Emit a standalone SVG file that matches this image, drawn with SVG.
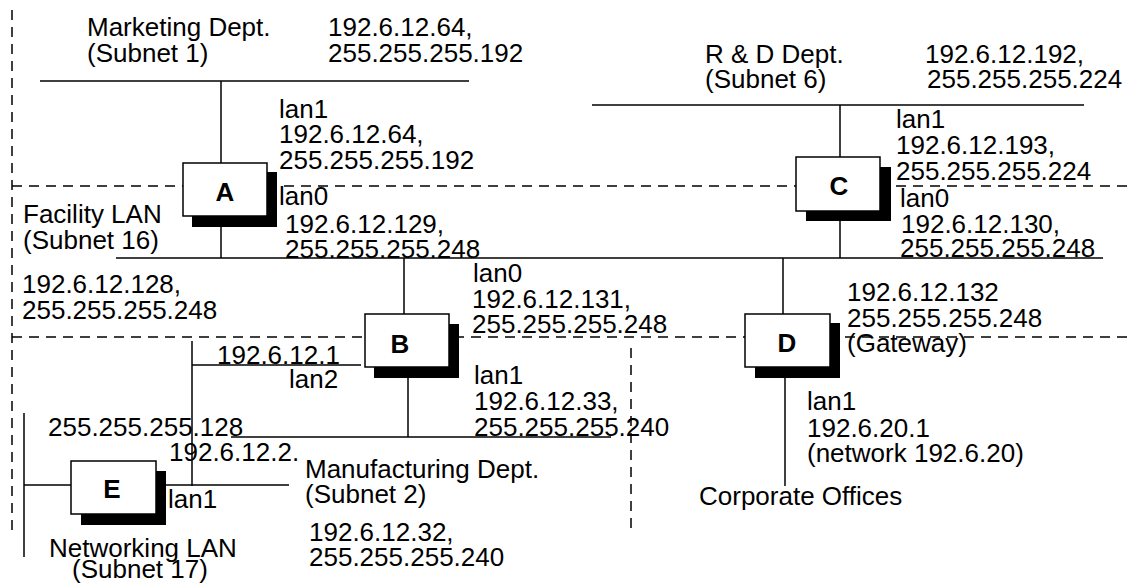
<svg xmlns="http://www.w3.org/2000/svg" width="1133" height="583" viewBox="0 0 1133 583">
<style>
text{font-family:"Liberation Sans",Arial,sans-serif;font-size:26px;fill:#000}
.lbl{font-weight:bold;text-anchor:middle}
.ln{stroke:#000;stroke-width:1.5;fill:none}
.dash{stroke:#000;stroke-width:1.5;fill:none;stroke-dasharray:10 7}
.box{fill:#fff;stroke:#000;stroke-width:1.5}
.sh{fill:#000}
</style>
<rect width="1133" height="583" fill="#fff"/>
<g id="regions">
<line class="dash" x1="12" y1="10" x2="12" y2="532"/>
<line class="dash" x1="12" y1="186" x2="1133" y2="186"/>
<line class="dash" x1="12" y1="337" x2="1133" y2="337"/>
<line class="dash" x1="631" y1="348" x2="631" y2="534"/>
</g>
<g id="connectors">
<line class="ln" x1="40" y1="81" x2="469" y2="81"/>
<line class="ln" x1="221" y1="81" x2="221" y2="163"/>
<line class="ln" x1="221" y1="227" x2="221" y2="258"/>
<line class="ln" x1="592" y1="105" x2="1084" y2="105"/>
<line class="ln" x1="840" y1="105" x2="840" y2="157"/>
<line class="ln" x1="840" y1="221" x2="840" y2="258"/>
<line class="ln" x1="116" y1="258" x2="1103" y2="258"/>
<line class="ln" x1="404" y1="258" x2="404" y2="314"/>
<line class="ln" x1="783" y1="258" x2="783" y2="314"/>
<line class="ln" x1="785" y1="378" x2="785" y2="486"/>
<line class="ln" x1="192" y1="365" x2="361" y2="365"/>
<line class="ln" x1="192" y1="341" x2="192" y2="486"/>
<line class="ln" x1="408" y1="378" x2="408" y2="437"/>
<line class="ln" x1="231" y1="437" x2="611" y2="437"/>
<line class="ln" x1="24" y1="413" x2="24" y2="557"/>
<line class="ln" x1="24" y1="485" x2="289" y2="485"/>
</g>
<g id="node-A">
<rect class="sh" x="192" y="172" width="85" height="55"/>
<rect class="box" x="183" y="163" width="84" height="53"/>
<text class="lbl" x="225" y="201">A</text>
</g>
<g id="node-C">
<rect class="sh" x="806" y="167" width="85" height="54"/>
<rect class="box" x="796" y="157" width="84" height="54"/>
<text class="lbl" x="839" y="195">C</text>
</g>
<g id="node-B">
<rect class="sh" x="374" y="324" width="85" height="54"/>
<rect class="box" x="365" y="314" width="84" height="53"/>
<text class="lbl" x="400" y="353">B</text>
</g>
<g id="node-D">
<rect class="sh" x="755" y="323" width="85" height="55"/>
<rect class="box" x="745" y="314" width="85" height="53"/>
<text class="lbl" x="787" y="352">D</text>
</g>
<g id="node-E">
<rect class="sh" x="81" y="471" width="85" height="54"/>
<rect class="box" x="71" y="461" width="85" height="53"/>
<text class="lbl" x="112" y="498">E</text>
</g>
<g id="labels">
<text x="87" y="36">Marketing Dept.</text>
<text x="87" y="62">(Subnet 1)</text>
<text x="328" y="36">192.6.12.64,</text>
<text x="328" y="62">255.255.255.192</text>
<text x="279" y="118">lan1</text>
<text x="279" y="143">192.6.12.64,</text>
<text x="279" y="169">255.255.255.192</text>
<text x="279" y="205">lan0</text>
<text x="285" y="233">192.6.12.129,</text>
<text x="285" y="258">255.255.255.248</text>
<text x="23" y="223">Facility LAN</text>
<text x="23" y="249">(Subnet 16)</text>
<text x="22" y="293">192.6.12.128,</text>
<text x="22" y="319">255.255.255.248</text>
<text x="705" y="63">R &amp; D Dept.</text>
<text x="705" y="88">(Subnet 6)</text>
<text x="925" y="63">192.6.12.192,</text>
<text x="927" y="88">255.255.255.224</text>
<text x="896" y="128">lan1</text>
<text x="896" y="154">192.6.12.193,</text>
<text x="896" y="180">255.255.255.224</text>
<text x="900" y="207">lan0</text>
<text x="901" y="233">192.6.12.130,</text>
<text x="900" y="257">255.255.255.248</text>
<text x="473" y="282">lan0</text>
<text x="472" y="308">192.6.12.131,</text>
<text x="472" y="333">255.255.255.248</text>
<text x="847" y="301">192.6.12.132</text>
<text x="847" y="327">255.255.255.248</text>
<text x="847" y="352">(Gateway)</text>
<text x="217" y="364">192.6.12.1</text>
<text x="289" y="388">lan2</text>
<text x="474" y="384">lan1</text>
<text x="474" y="410">192.6.12.33,</text>
<text x="474" y="436">255.255.255.240</text>
<text x="48" y="436">255.255.255.128</text>
<text x="169" y="461">192.6.12.2.</text>
<text x="168" y="508">lan1</text>
<text x="305" y="478">Manufacturing Dept.</text>
<text x="305" y="503">(Subnet 2)</text>
<text x="309" y="541">192.6.12.32,</text>
<text x="309" y="566">255.255.255.240</text>
<text x="49" y="557">Networking LAN</text>
<text x="72" y="578">(Subnet 17)</text>
<text x="807" y="410">lan1</text>
<text x="807" y="437">192.6.20.1</text>
<text x="807" y="462">(network 192.6.20)</text>
<text x="699" y="505">Corporate Offices</text>
</g>
</svg>
